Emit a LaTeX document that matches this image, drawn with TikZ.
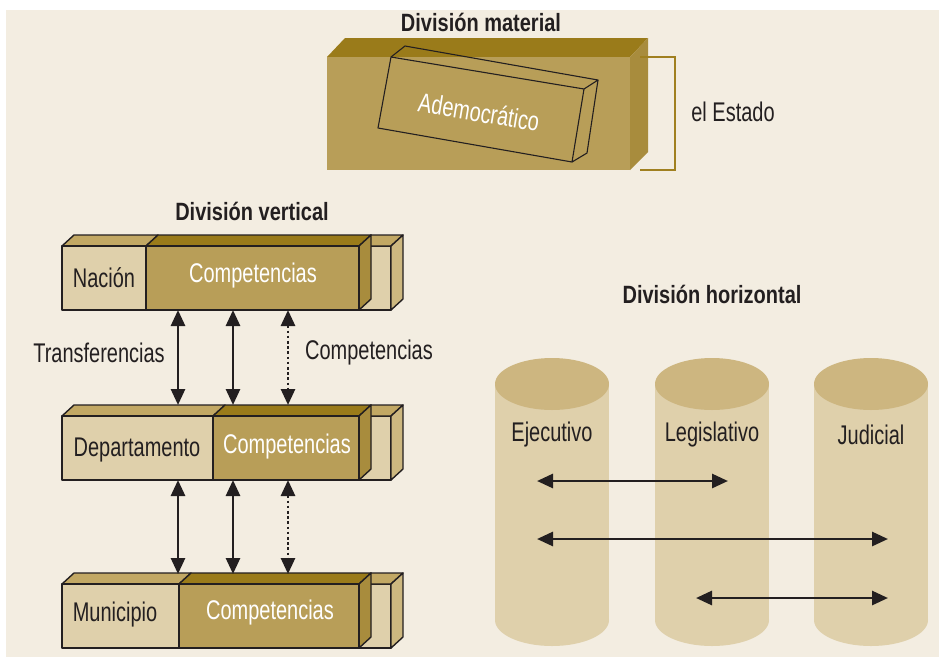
\documentclass[tikz,border=0pt]{standalone}
\usepackage{fontspec}
\setmainfont{Liberation Sans}[FakeStretch=0.8]
\newfontfamily\narrowfont{Liberation Sans}[FakeStretch=0.74]
\usetikzlibrary{arrows.meta}

\definecolor{paper}{HTML}{F3EDE1}
\definecolor{lighttan}{HTML}{DFD0AB}
\definecolor{midtan}{HTML}{C2A864}
\definecolor{sidetan}{HTML}{CDB880}
\definecolor{darkfront}{HTML}{B89E58}
\definecolor{darktop}{HTML}{9A7B1A}
\definecolor{darkside}{HTML}{A88C3D}
\definecolor{cyltop}{HTML}{CDB680}
\definecolor{cylbody}{HTML}{DFD0AB}
\definecolor{bracketcol}{HTML}{A08020}
\definecolor{ink}{HTML}{231F20}

\tikzset{
  label/.style={text=ink, inner sep=0pt, font=\narrowfont\fontsize{27}{30}\selectfont},
  wlabel/.style={text=white, inner sep=0pt, font=\narrowfont\fontsize{27}{30}\selectfont},
  title/.style={text=ink, inner sep=0pt, font=\fontsize{25}{30}\selectfont\bfseries},
  face/.style={draw=ink, line width=1.4pt, line join=round},
  thinface/.style={draw=ink, line width=1.1pt, line join=round},
  link/.style={draw=ink, line width=2.8pt,
    arrows={Triangle[length=16pt,width=14pt]-Triangle[length=16pt,width=14pt]}},
  dottedlink/.style={link, dash pattern=on 2.6pt off 2.6pt},
}

% One level of the vertical division: #1 = front top edge, #2 = split between
% the name panel and the competences panel
\newcommand\levelbar[2]{%
  % light box standing behind the right end
  \fill[lighttan, face] (359,#1) rectangle (391,{#1+64});
  \fill[midtan, face] (359,#1) -- (371,{#1-11}) -- (403,{#1-11}) -- (391,#1) -- cycle;
  \fill[sidetan, face] (391,#1) -- (403,{#1-11}) -- (403,{#1+53}) -- (391,{#1+64}) -- cycle;
  % top faces
  \fill[midtan, face] (62,#1) -- (74,{#1-11}) -- ({#2+12},{#1-11}) -- (#2,#1) -- cycle;
  \fill[darktop, face] (#2,#1) -- ({#2+12},{#1-11}) -- (371,{#1-11}) -- (359,#1) -- cycle;
  % right face of the competences panel
  \fill[darkside, face] (359,#1) -- (371,{#1-11}) -- (371,{#1+53}) -- (359,{#1+64}) -- cycle;
  % front faces
  \fill[lighttan, face] (62,#1) rectangle (#2,{#1+64});
  \fill[darkfront, face] (#2,#1) rectangle (359,{#1+64});
}

\begin{document}
\begin{tikzpicture}[x=1pt, y=-1pt]
\useasboundingbox (0,0) rectangle (939,657);
\fill[white] (0,0) rectangle (939,657);
\fill[paper] (6,10) rectangle (939,657);

% ---------- División material ----------
\node[title] (tmat) at (481,22) {División material};
\fill[darktop] (327,57) -- (345,38) -- (648,38) -- (630,57) -- cycle;
\fill[darkside] (630,57) -- (648,38) -- (648,152) -- (630,170) -- cycle;
\fill[darkfront] (327,57) rectangle (630,170);
% tilted block
\draw[thinface] (391,57) -- (584,89) -- (572,162) -- (378,128) -- cycle;
\draw[thinface] (391,57) -- (405,46) -- (598,80) -- (584,89);
\draw[thinface] (598,80) -- (587,153) -- (572,162);
\node[wlabel, rotate=-9.4] (ademo) at (479,112) {Ademocrático};
% bracket
\coordinate (brtop) at (640,57);
\coordinate (brbot) at (640,170);
\draw[bracketcol, line width=2.8pt] (brtop) -- (675,57) -- (675,170) -- (brbot);
\node[label] (estado) at (733,112) {el Estado};

% ---------- División vertical ----------
\node[title] (tver) at (252,211) {División vertical};

\levelbar{246}{146}
\node[label] (nacion) at (104,278) {Nación};
\node[wlabel] (comp1) at (253,276) {Competencias};

\levelbar{416}{213}
\node[label] (depto) at (137,450) {Departamento};
\node[wlabel] (comp2) at (287,447) {Competencias};

\levelbar{584}{179}
\node[label] (muni) at (115,615) {Municipio};
\node[wlabel] (comp3) at (270,613) {Competencias};

% ends of the links between levels
\coordinate (a1) at (178,310); \coordinate (b1) at (178,405);
\coordinate (a2) at (233,310); \coordinate (b2) at (233,405);
\coordinate (a3) at (288,310); \coordinate (b3) at (288,405);
\coordinate (c1) at (178,480); \coordinate (d1) at (178,574);
\coordinate (c2) at (233,480); \coordinate (d2) at (233,574);
\coordinate (c3) at (288,480); \coordinate (d3) at (288,574);

\draw[link] (a1) -- (b1);
\draw[link] (a2) -- (b2);
\draw[dottedlink] (a3) -- (b3);
\draw[link] (c1) -- (d1);
\draw[link] (c2) -- (d2);
\draw[dottedlink] (c3) -- (d3);

\node[label] (transf) at (99,353) {Transferencias};
\node[label] (compl) at (369,353) {Competencias};

% ---------- División horizontal ----------
\node[title] (thor) at (712,294) {División horizontal};

\foreach \cx/\nm in {552/ejec, 712/legis, 871/judic} {
  \fill[cylbody] (\cx-57,384) rectangle (\cx+57,620);
  \fill[cylbody] (\cx,620) ellipse [x radius=57, y radius=26];
  \fill[cyltop] (\cx,384) ellipse [x radius=57, y radius=26];
  \coordinate (\nm) at (\cx,435);
}
\node[label] at (ejec) {Ejecutivo};
\node[label] at (legis) {Legislativo};
\node[label] at (judic) {Judicial};

\coordinate (h1a) at (537,481); \coordinate (h1b) at (728,481);
\coordinate (h2a) at (537,539); \coordinate (h2b) at (888,539);
\coordinate (h3a) at (696,598); \coordinate (h3b) at (888,598);
\draw[link] (h1a) -- (h1b);
\draw[link] (h2a) -- (h2b);
\draw[link] (h3a) -- (h3b);
\end{tikzpicture}
\end{document}
